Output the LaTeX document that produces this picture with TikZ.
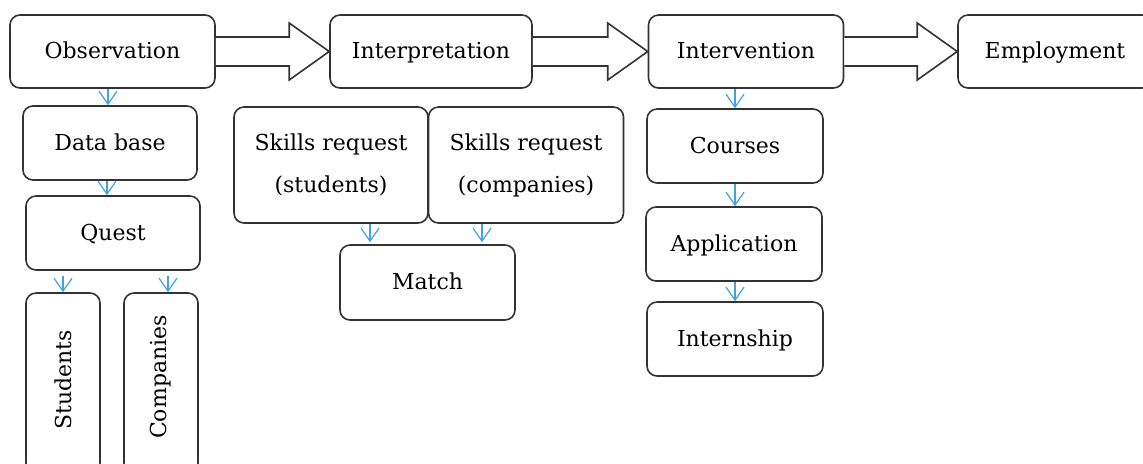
\documentclass[tikz,border=0pt]{standalone}
\usepackage{fontspec}
\setmainfont{DejaVu Serif}
\usepackage{tikz}
\usetikzlibrary{arrows.meta,positioning,calc}
\definecolor{fcink}{HTML}{333333}
\definecolor{fcsky}{HTML}{41A3DB}

\begin{document}
\begin{tikzpicture}[x=0.5pt,y=-0.5pt,
    stage/.style={draw=fcink,line width=0.8pt,rounded corners=5pt,align=center,font=\fontsize{11}{21}\selectfont,inner sep=0pt},
    oneline/.style={stage,text height=8pt,text depth=1pt},
    flow/.style={draw=fcsky,line width=0.6pt,-{Straight Barb[length=6.5pt,width=9pt]}},
    hollow/.style={draw=fcink,line width=0.8pt,fill=white,line join=miter}]
  \useasboundingbox (0,0) rectangle (1143,463);
  \clip (0,0) rectangle (1143,463);
  % main line
  \node[oneline,minimum width=102.5pt,minimum height=36.5pt] (obs) at (112.5,51.5) {Observation};
  \node[oneline,minimum width=101pt,minimum height=36.5pt] (interp) at (431,51.5) {Interpretation};
  \node[oneline,minimum width=97.5pt,minimum height=36.5pt] (interv) at (746,51.5) {Intervention};
  \node[oneline,minimum width=97pt,minimum height=36.5pt] (employ) at (1055,51.5) {Employment};
  % observation column
  \node[oneline,minimum width=87pt,minimum height=37pt] (dbase) at (110,143) {Data base};
  \node[oneline,minimum width=87pt,minimum height=37pt] (quest) at (113,233) {Quest};
  \node[stage,minimum width=37pt,minimum height=90pt] (stud) at (63,383) {};
  \node[rotate=90,font=\fontsize{11}{21}\selectfont] (studtxt) at (63,380) {Students};
  \node[stage,minimum width=37pt,minimum height=90pt] (comp) at (161,383) {};
  \node[rotate=90,font=\fontsize{11}{21}\selectfont] (comptxt) at (161,377) {Companies};
  % interpretation column
  \node[stage,minimum width=97pt,minimum height=58pt] (skstud) at (331,165) {Skills request\\(students)};
  \node[stage,minimum width=97.5pt,minimum height=58pt] (skcomp) at (526,165) {Skills request\\(companies)};
  \node[oneline,minimum width=87.5pt,minimum height=37.5pt] (match) at (427.5,282.5) {Match};
  % intervention column
  \node[oneline,minimum width=88pt,minimum height=37pt] (courses) at (735,146) {Courses};
  \node[oneline,minimum width=88pt,minimum height=37pt] (appl) at (734,244) {Application};
  \node[oneline,minimum width=88pt,minimum height=37pt] (intern) at (735,339) {Internship};

  % hollow arrows between stages
  \foreach \a/\b in {obs/interp,interp/interv,interv/employ}{
    \draw[hollow] ([yshift=7.25pt]\a.east) -- ([xshift=-20pt,yshift=7.25pt]\b.west)
      -- ([xshift=-20pt,yshift=14.25pt]\b.west) -- (\b.west)
      -- ([xshift=-20pt,yshift=-14.25pt]\b.west) -- ([xshift=-20pt,yshift=-7.25pt]\b.west)
      -- ([yshift=-7.25pt]\a.east);
  }

  % small arrows
  \draw[flow] ([xshift=-1pt]dbase.north |- obs.south) -- ([xshift=-1pt]dbase.north);
  \draw[flow] ([xshift=-1.5pt]dbase.south) -- ([xshift=-1.5pt]dbase.south |- quest.north);
  \draw[flow] ([yshift=-2.5pt]stud.north |- quest.south) -- (stud.north);
  \draw[flow] ([xshift=3.5pt,yshift=-2.5pt]comp.north |- quest.south) -- ([xshift=3.5pt]comp.north);
  \draw[flow] ([xshift=-28.75pt]match.north |- skstud.south) -- ([xshift=-28.75pt,yshift=1pt]match.north);
  \draw[flow] ([xshift=27.25pt]match.north |- skcomp.south) -- ([xshift=27.25pt,yshift=1pt]match.north);
  \draw[flow] (courses.north |- interv.south) -- (courses.north);
  \draw[flow] (courses.south) -- (courses.south |- appl.north);
  \draw[flow] (courses.south |- appl.south) -- (courses.south |- intern.north);
\end{tikzpicture}
\end{document}
